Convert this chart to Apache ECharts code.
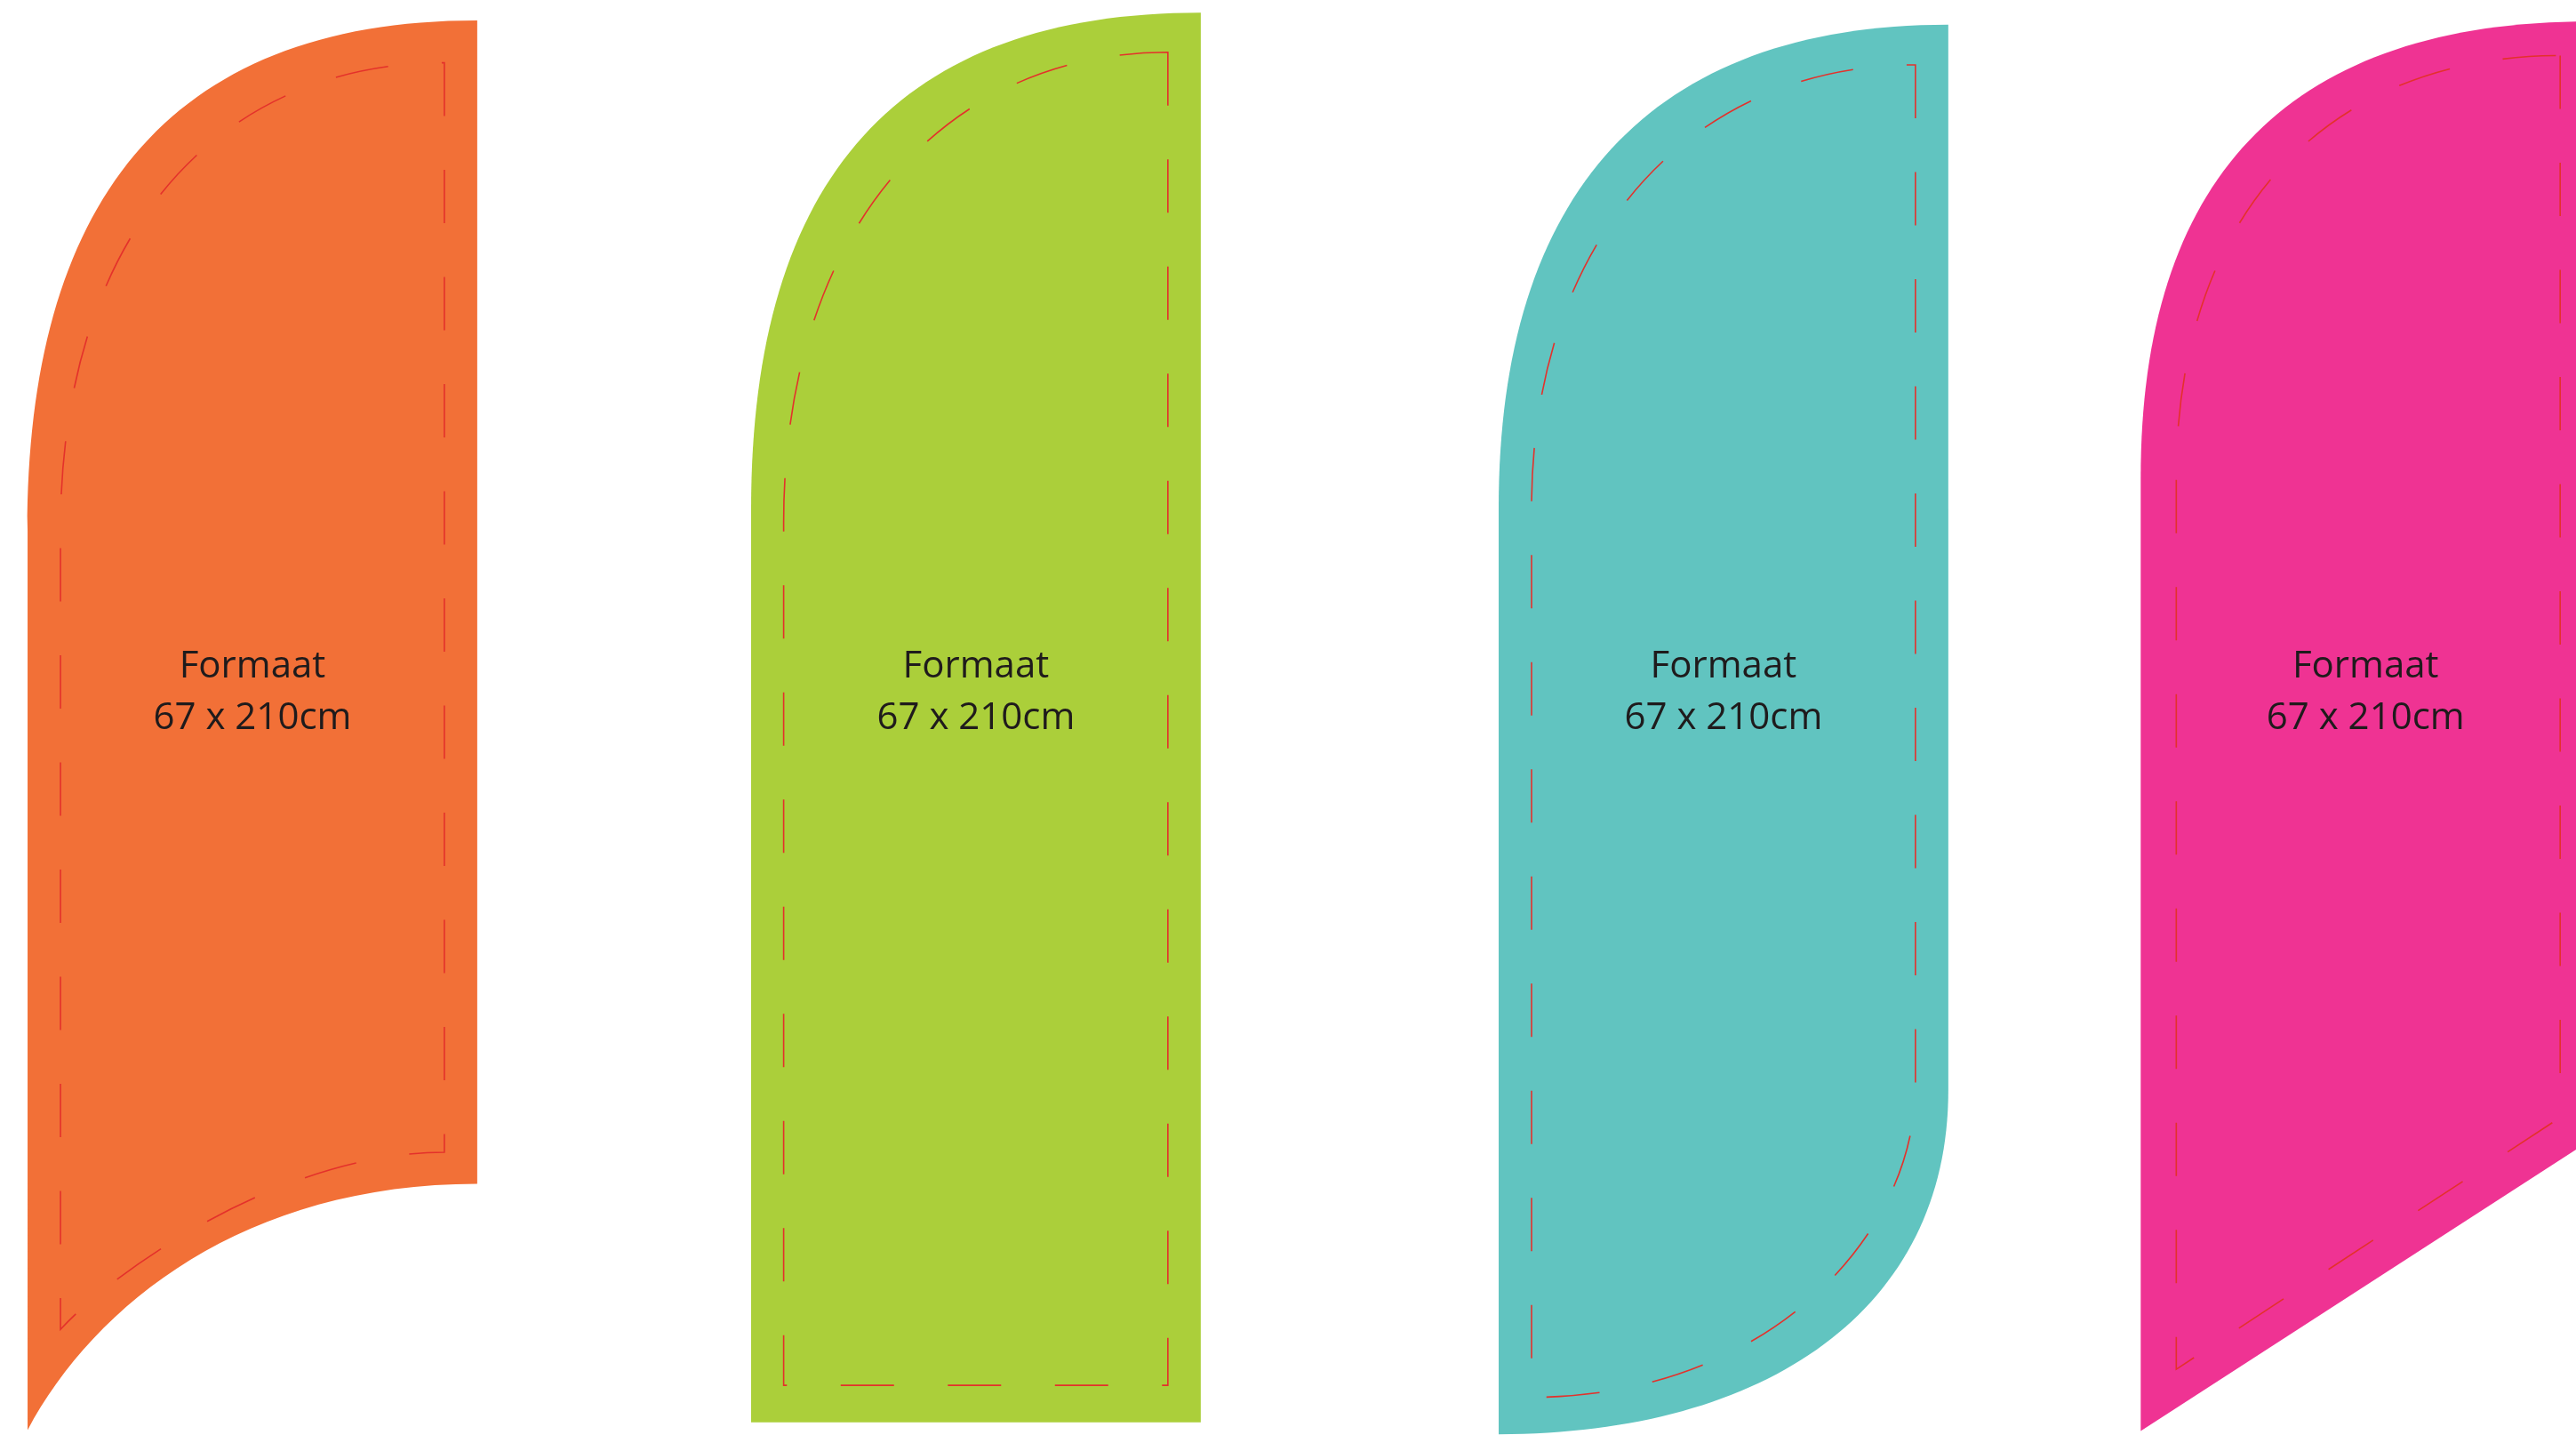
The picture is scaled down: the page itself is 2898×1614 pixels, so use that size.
<!DOCTYPE html>
<html>
<head>
<meta charset="utf-8">
<script src="https://cdn.jsdelivr.net/npm/echarts@6/dist/echarts.min.js"></script>
<style>
html,body{margin:0;padding:0;background:#ffffff;overflow:hidden}
#chart{width:2898px;height:1614px}
</style>
</head>
<body>
<div id="chart"></div>
<script>
// ---------- DATA (centimetres; flag-local coordinates, y measured downward from flag top) ----------
// Each run is either [start, end] (straight) or [start, ctrl1, ctrl2, end] (cubic Bézier).
const flagNames = ['Oranje', 'Groen', 'Turquoise', 'Roze'];
const flagOrigins = [[4.11, 3.05], [111.92, 1.88], [223.31, 3.66], [318.98, 3.18]]; // flag top-left on the sheet (cm)
const labelLines = ['Formaat', '67 x 210cm'];
const labelRows = [99.3, 107.0];          // cm from sheet top (line centres)
const flagCentre = 33.5;                  // cm from flag left edge

const orangeTop    = [[67, 0], [20.3, 0], [0, 28], [0, 76]];
const orangeBottom = [[0, 210], [10, 191.2], [32.5, 173.3], [67, 173.3]];
const orangeSeamRight  = [[62.1, 6.3], [62.1, 168.6]];
const orangeSeamBottom = [[62.1, 168.6], [38.1, 168.6], [12.9, 186.2], [4.9, 195.0]];
const orangeSeamTop    = [[4.9, 76], [4.9, 31.1], [29.1, 6.3], [62.1, 6.3]];

const greenTop    = [[67, 0], [22.2, 0], [0, 24.4], [0, 74]];
const greenBottom = [[0, 210], [67, 210]];
const greenSeamRight  = [[62.1, 5.9], [62.1, 204.5]];
const greenSeamBottom = [[62.1, 204.5], [4.85, 204.5]];
const greenSeamTop    = [[4.85, 76], [4.85, 32.1], [29.1, 5.9], [62.1, 5.9]];

const tealTop    = [[67, 0], [22.5, 0], [0, 25.3], [0, 72]];
const tealBottom = [[0, 210], [40, 210], [67, 191.3], [67, 158.8]];
const tealSeamRight  = [[62.1, 6.0], [62.1, 158.1]];
const tealSeamBottom = [[62.1, 158.1], [62.1, 180.8], [39.6, 204.5], [4.9, 204.5]];
const tealSeamTop    = [[4.9, 72], [4.9, 31.5], [29.1, 6.0], [62.1, 6.0]];

const pinkTop    = [[67, 0], [22.1, 0], [0, 23.2], [0, 68]];
const pinkBottom = [[0, 210], [67, 166.7]];
const pinkSeamRight  = [[62.5, 5.1], [62.5, 163.3]];
const pinkSeamBottom = [[62.5, 163.3], [5.3, 200.8]];
const pinkSeamTop    = [[5.3, 68], [5.3, 28], [28.5, 5.1], [62.5, 5.1]];

// ---------- STYLE ----------
const flagColors = ['#F27037', '#ABCF3A', '#61C4C0', '#EF3393'];
const seamColor = '#E4312B';
const textColor = '#1F1B1C';

const outlines = [[orangeTop, orangeBottom], [greenTop, greenBottom], [tealTop, tealBottom], [pinkTop, pinkBottom]];
const seams = [[orangeSeamRight, orangeSeamBottom, orangeSeamTop], [greenSeamRight, greenSeamBottom, greenSeamTop],
               [tealSeamRight, tealSeamBottom, tealSeamTop], [pinkSeamRight, pinkSeamBottom, pinkSeamTop]];

function f(v) { return v.toFixed(2); }
function xy(p) { return f(p[0]) + ' ' + f(p[1]); }
function runsToPath(api, origin, runs, close) {
  let d = '';
  runs.forEach(function (run, ri) {
    const pts = run.map(function (p) { return api.coord([origin[0] + p[0], origin[1] + p[1]]); });
    d += (ri === 0 ? 'M' : ' L') + xy(pts[0]);
    if (pts.length === 4) d += ' C' + xy(pts[1]) + ' ' + xy(pts[2]) + ' ' + xy(pts[3]);
    else d += ' L' + xy(pts[1]);
  });
  if (close) d += ' Z';
  return d;
}

const chart = echarts.init(document.getElementById('chart'), null, { renderer: 'canvas' });
const idx = flagNames.map(function (n, i) { return [i, 0]; });

chart.setOption({
  animation: false,
  backgroundColor: '#ffffff',
  grid: { left: 0, right: 0, top: 0, bottom: 0 },
  xAxis: { type: 'value', min: 0, max: 2898 / 7.55, show: false },
  yAxis: { type: 'value', min: 0, max: 1614 / 7.55, inverse: true, show: false },
  tooltip: { show: false },
  series: [
    {
      type: 'custom', name: 'flags', data: idx, encode: { x: 0, y: 1 }, clip: false, silent: true,
      renderItem: function (params, api) {
        const i = api.value(0);
        return { type: 'path', shape: { pathData: runsToPath(api, flagOrigins[i], outlines[i], true) },
                 style: { fill: flagColors[i], stroke: null } };
      }
    },
    {
      type: 'custom', name: 'seams', data: idx, encode: { x: 0, y: 1 }, clip: false, silent: true, z: 3,
      renderItem: function (params, api) {
        const i = api.value(0);
        return { type: 'path', shape: { pathData: runsToPath(api, flagOrigins[i], seams[i], true) },
                 style: { fill: 'none', stroke: seamColor, lineWidth: 1.6, lineDash: [60, 60.5] } };
      }
    },
    {
      type: 'custom', name: 'labels', data: idx, encode: { x: 0, y: 1 }, clip: false, silent: true, z: 4,
      renderItem: function (params, api) {
        const i = api.value(0);
        const children = labelLines.map(function (t, k) {
          const p = api.coord([flagOrigins[i][0] + flagCentre, labelRows[k]]);
          return { type: 'text', x: p[0], y: p[1],
                   style: { text: t, fill: textColor, font: '42px "Open Sans"', align: 'center', verticalAlign: 'middle',
                            textAlign: 'center', textVerticalAlign: 'middle' } };
        });
        return { type: 'group', children: children };
      }
    }
  ]
});
</script>
</body>
</html>
